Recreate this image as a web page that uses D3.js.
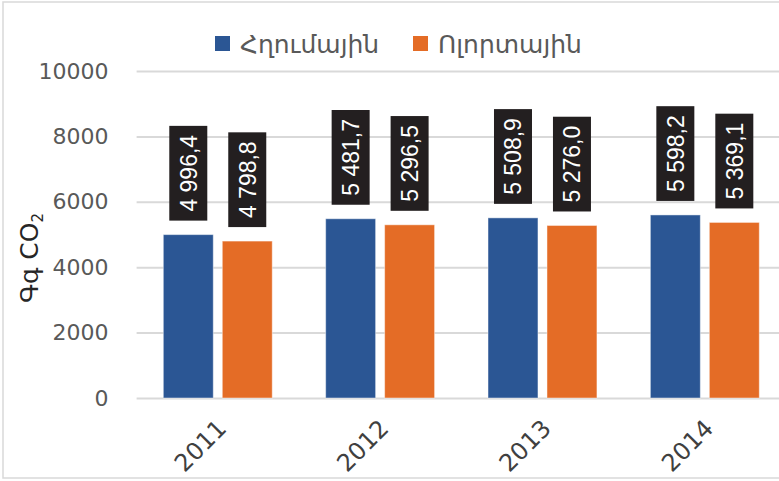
<!DOCTYPE html>
<html>
<head>
<meta charset="utf-8">
<script src="https://cdn.jsdelivr.net/npm/d3@7"></script>
<style>
  body { margin: 0; background: #fff; }
  svg { display: block; }
</style>
</head>
<body>
<div id="chart"></div>
<script>
// chart data
const years = ['2011', '2012', '2013', '2014'];
const seriesNames = ['Հղումային', 'Ոլորտային'];
const refValues = [4996.4, 5481.7, 5508.9, 5598.2];
const sectValues = [4798.8, 5296.5, 5276.0, 5369.1];
const yTicks = [0, 2000, 4000, 6000, 8000, 10000];
const colors = ['#2B5694', '#E46C26'];

const width = 779, height = 481;
const margin = { left: 136.6, right: -7, top: 71, bottom: 83 };

const svg = d3.select('#chart').append('svg')
    .attr('width', width)
    .attr('height', height);

// outer border
svg.append('rect')
    .attr('x', 3).attr('y', 2)
    .attr('width', width - 2).attr('height', 476)
    .attr('fill', 'none')
    .attr('stroke', '#d9d9d9')
    .attr('stroke-width', 1.5);

const x0 = d3.scaleBand()
    .domain(years)
    .range([margin.left, width - margin.right])
    .padding(0);

const x1 = d3.scaleBand()
    .domain([0, 1])
    .range([0, x0.bandwidth()])
    .paddingInner(0.153)
    .paddingOuter(0.453);

const y = d3.scaleLinear()
    .domain([0, 10000])
    .range([height - margin.bottom, margin.top]);

// y axis with gridlines
const yAxis = d3.axisLeft(y)
    .tickValues(yTicks)
    .tickSize(-(width - margin.left + 10))
    .tickPadding(28)
    .tickFormat(d3.format('d'));

svg.append('g')
    .attr('class', 'y-axis')
    .attr('transform', `translate(${margin.left},0)`)
    .call(yAxis)
    .call(g => g.select('.domain').remove())
    .call(g => g.selectAll('line').attr('stroke', '#d9d9d9').attr('stroke-width', 2))
    .call(g => g.selectAll('text')
        .attr('fill', '#595959')
        .style('font-family', '"DejaVu Sans", sans-serif')
        .style('font-size', '22px'));

// x axis labels
const xAxis = d3.axisBottom(x0).tickSize(0).tickPadding(0);
svg.append('g')
    .attr('class', 'x-axis')
    .attr('transform', `translate(0,${y(0)})`)
    .call(xAxis)
    .call(g => g.select('.domain').remove())
    .call(g => g.selectAll('text')
        .attr('fill', '#404040')
        .style('font-family', '"DejaVu Sans", sans-serif')
        .style('font-size', '24px')
        .attr('text-anchor', 'end')
        .attr('dy', 0)
        .attr('transform', 'translate(10,32) rotate(-45)'));

const rows = years.map((yr, i) => ({ year: yr, values: [refValues[i], sectValues[i]] }));

const fmt = d3.formatLocale({ decimal: ',', thousands: ' ', grouping: [3], currency: ['', ''] }).format(',.1f');

const groups = svg.append('g').selectAll('g')
    .data(rows)
    .join('g')
    .attr('transform', d => `translate(${x0(d.year)},0)`);

groups.selectAll('rect')
    .data(d => d.values.map((v, k) => ({ v, k })))
    .join('rect')
    .attr('x', d => x1(d.k))
    .attr('y', d => y(d.v))
    .attr('width', x1.bandwidth())
    .attr('height', d => y(0) - y(d.v))
    .attr('fill', d => colors[d.k])
    .attr('stroke', 'rgba(255,255,255,0.45)')
    .attr('stroke-width', 1);

// data labels: black boxes with rotated white text
const labels = groups.selectAll('g.lbl')
    .data(d => d.values.map((v, k) => ({ v, k })))
    .join('g')
    .attr('class', 'lbl')
    .attr('transform', d => `translate(${x1(d.k) + x1.bandwidth() / 2},${y(d.v) - 14})`);

labels.each(function(d) {
    const g = d3.select(this);
    const box = g.append('rect').attr('fill', '#231f20');
    const t = g.append('text')
        .attr('transform', 'rotate(-90)')
        .attr('x', 9)
        .attr('y', 0)
        .attr('dy', '0.36em')
        .attr('fill', '#fff')
        .style('font-family', '"Liberation Sans Narrow", "Arial Narrow", sans-serif')
        .style('font-size', '23px')
        .text(fmt(d.v));
    const len = t.node().getComputedTextLength();
    box.attr('x', -19).attr('width', 38)
        .attr('y', -(len + 18)).attr('height', len + 18);
});

// y axis title
svg.append('text')
    .attr('transform', `translate(38,258) rotate(-90)`)
    .attr('text-anchor', 'middle')
    .attr('fill', '#262626')
    .style('font-family', '"DejaVu Sans", sans-serif')
    .style('font-size', '25px')
    .call(t => {
        t.append('tspan').text('Գգ CO');
        t.append('tspan').attr('dy', 5).style('font-size', '15px').text('2');
    });

// legend
const legend = svg.append('g').attr('class', 'legend');
const legX = [215, 413];
seriesNames.forEach((name, i) => {
    legend.append('rect')
        .attr('x', legX[i]).attr('y', 36)
        .attr('width', 15).attr('height', 15)
        .attr('fill', colors[i]);
    legend.append('text')
        .attr('x', legX[i] + 25).attr('y', 44)
        .attr('dy', '0.35em')
        .attr('fill', '#595959')
        .style('font-family', '"DejaVu Sans", sans-serif')
        .style('font-size', '25px')
        .text(name);
});
</script>
</body>
</html>
